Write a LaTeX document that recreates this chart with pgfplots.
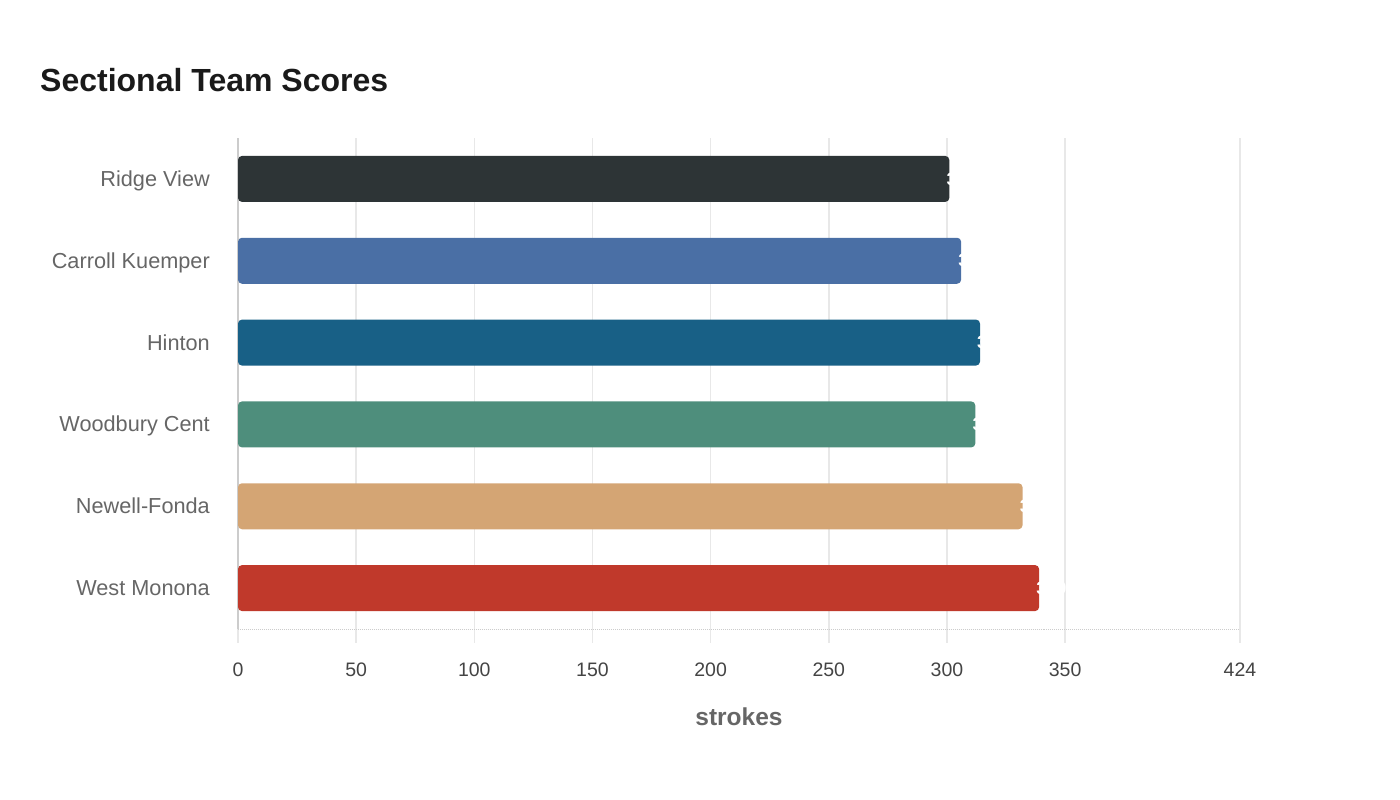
\documentclass[border=0pt]{standalone}
\usepackage{pgfplots}
\pgfplotsset{compat=1.18}
\usepackage{fontspec}
\setmainfont{Liberation Sans}

\definecolor{cRidge}{HTML}{2D3436}
\definecolor{cCarroll}{HTML}{4A6FA5}
\definecolor{cHinton}{HTML}{186086}
\definecolor{cWoodbury}{HTML}{4E8E7C}
\definecolor{cNewell}{HTML}{D4A574}
\definecolor{cWest}{HTML}{C0392B}
\definecolor{gridgray}{HTML}{E8E8E8}
\definecolor{axisgray}{HTML}{CCCCCC}
\definecolor{labgray}{HTML}{666666}
\definecolor{tickgray}{HTML}{444444}
\definecolor{titlecol}{HTML}{1A1A1A}

\begin{document}
\begin{tikzpicture}
\path[use as bounding box] (0,0) rectangle (1400bp,800bp);

\node[anchor=base west, inner sep=0pt, text=titlecol,
      font=\fontsize{32bp}{36bp}\selectfont\bfseries]
  at (40bp,708bp) {Sectional Team Scores};

\begin{axis}[
    at={(238bp,171bp)}, anchor=south west,
    scale only axis,
    width=1002bp, height=491bp,
    xbar, bar width=46bp, bar shift=0pt,
    xmin=0, xmax=424,
    xtick={0,50,100,150,200,250,300,350,424},
    ymin=-0.5, ymax=5.5, y dir=reverse,
    ytick={0,1,2,3,4,5},
    yticklabels={Ridge View, Carroll Kuemper, Hinton, Woodbury Cent, Newell-Fonda, West Monona},
    axis x line*=bottom, axis y line*=left,
    x axis line style={draw=axisgray, densely dotted, line width=1bp, -},
    y axis line style={draw=axisgray, line width=1.5bp, -},
    xmajorgrids, major grid style={draw=gridgray, line width=1.5bp},
    tick align=outside, major tick length=14bp,
    xtick style={draw=gridgray, line width=1.5bp},
    ytick style={draw=none},
    /pgf/number format/assume math mode=true,
    xticklabel style={font=\fontsize{19.5bp}{22bp}\selectfont, text=tickgray, inner sep=0pt, anchor=base, yshift=-33bp},
    yticklabel style={font=\fontsize{21.7bp}{24bp}\selectfont, text=labgray, inner sep=0pt, anchor=base east, xshift=-14bp, yshift=-7.5bp},
    xlabel={strokes},
    xlabel style={at={(axis description cs:0.5,0)}, anchor=base, inner sep=0pt, yshift=-96bp,
                  font=\fontsize{24.5bp}{27bp}\selectfont\bfseries, text=labgray},
    nodes near coords,
    nodes near coords style={text=white, anchor=west, inner sep=0pt, xshift=-3bp,
                             font=\fontsize{18bp}{20bp}\selectfont\bfseries},
    every axis plot/.append style={draw=none, rounded corners=4bp},
    clip=false,
]
\addplot[fill=cRidge] coordinates {(301,0)};
\addplot[fill=cCarroll] coordinates {(306,1)};
\addplot[fill=cHinton] coordinates {(314,2)};
\addplot[fill=cWoodbury] coordinates {(312,3)};
\addplot[fill=cNewell] coordinates {(332,4)};
\addplot[fill=cWest] coordinates {(339,5)};
\end{axis}
\end{tikzpicture}
\end{document}
